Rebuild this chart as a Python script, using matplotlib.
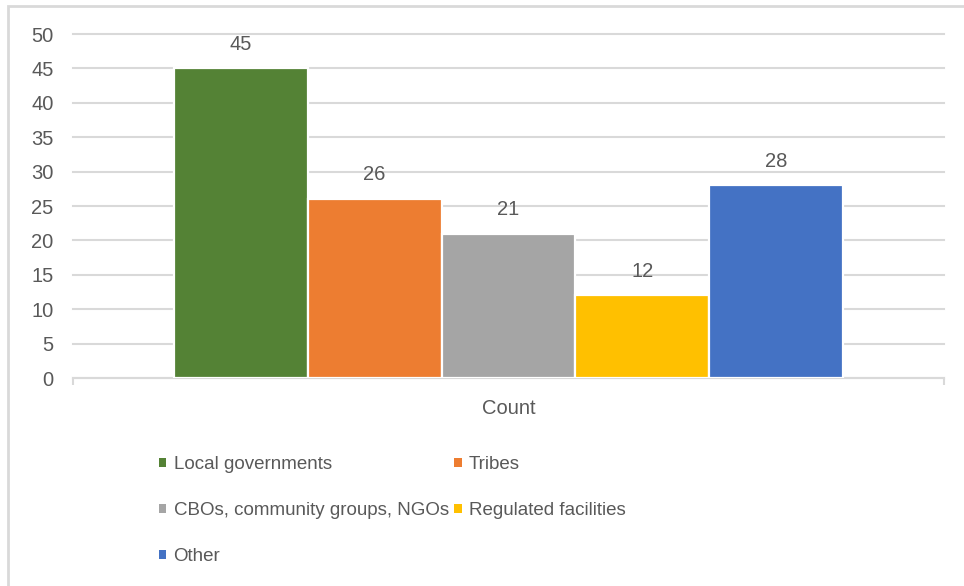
import matplotlib.pyplot as plt
from matplotlib.patches import Patch, Rectangle
import numpy as np

# data
series = ["Local governments", "Tribes", "CBOs, community groups, NGOs",
          "Regulated facilities", "Other"]
values = [45, 26, 21, 12, 28]
colors = ["#548235", "#ED7D31", "#A5A5A5", "#FFC000", "#4472C4"]
category = "Count"

txtcol = "#595959"
gridcol = "#D9D9D9"
plt.rcParams["font.family"] = "Liberation Sans"
fs = 14.5

fig = plt.figure(figsize=(9.64, 5.86), dpi=100)
W, H = 964, 586
ax = fig.add_axes([73/W, 1-378/H, (944-73)/W, (378-34)/H])

step = 0.1538
n = len(values)
for i in range(n):
    xc = (i-(n-1)/2)*step
    ax.bar(xc, values[i], width=step, color=colors[i], edgecolor="white",
           linewidth=1.6, zorder=3)
    ax.annotate(str(values[i]), (xc, values[i]), xytext=(0, 13.5),
                textcoords="offset points", ha="center", va="baseline",
                fontsize=fs, color=txtcol)

ax.set_xlim(-0.5, 0.5)
ax.set_ylim(0, 50)
ax.set_yticks(np.arange(0, 51, 5))
ax.yaxis.grid(True, color=gridcol, linewidth=1.5, zorder=0)
for gl in ax.get_ygridlines():
    gl.set_clip_on(False)
ax.set_axisbelow(True)
for s in ["left", "right", "top"]:
    ax.spines[s].set_visible(False)
ax.spines["bottom"].set_color(gridcol)
ax.spines["bottom"].set_linewidth(1.5)
ax.tick_params(axis="y", length=0, pad=14, labelsize=fs, labelcolor=txtcol)
ax.set_xticks([0])
ax.set_xticklabels([category])
ax.tick_params(axis="x", which="major", length=0, pad=15, labelsize=fs,
               labelcolor=txtcol)
ax.set_xticks([-0.5, 0.5], minor=True)
ax.tick_params(axis="x", which="minor", length=5, width=1.5, color=gridcol)

# legend in excel row order
lfs = 13.5
order = [0, 2, 4, 1, 3]
handles = [Patch(facecolor=colors[i], label=series[i]) for i in order]
fig.legend(handles=handles, ncol=2, loc="upper left",
           bbox_to_anchor=(159/W, 1-456/H), frameon=False, fontsize=lfs,
           labelcolor=txtcol, handlelength=0.38, handleheight=0.38,
           handletextpad=0.4, columnspacing=0.3, labelspacing=1.55,
           borderpad=0, borderaxespad=0)

# chart border
fig.patches.append(Rectangle((8/W, -0.1), 1.2, 1-6/H+0.1,
                             transform=fig.transFigure, fill=False,
                             edgecolor=gridcol, linewidth=2))

fig.savefig("out.png", dpi=100)
